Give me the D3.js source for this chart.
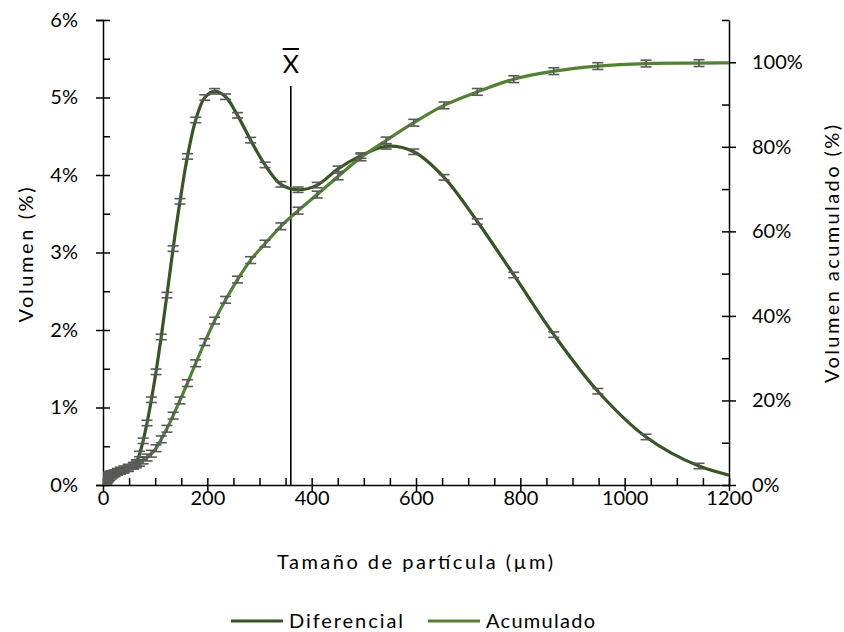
<!DOCTYPE html>
<html>
<head>
<meta charset="utf-8">
<script src="https://cdn.jsdelivr.net/npm/d3@7"></script>
<style>
  body { margin: 0; background: #fff; }
  svg { display: block; font-family: Lato, 'Open Sans', sans-serif; }
</style>
</head>
<body>
<div id="chart"></div>
<script>
// particle size classes (µm)
const sizes = [4.3, 5.2, 6.2, 7.5, 9.1, 10.9, 13.1, 15.8, 19, 22.9, 27.6, 33.3, 40.1, 48.3,
  58.2, 63.9, 70.1, 76.9, 84.4, 92.7, 101.7, 111.6, 122.5, 134.4, 147.6, 161.9,
  177.7, 195.1, 214.1, 235, 257.9, 283, 310.6, 340.9, 374.1, 410.6, 450.6, 494.5, 542.7, 595.7, 653.7, 717.5, 787.4, 864.2,
  948.5, 1041, 1142.5, 1254];
// volume (%) per class
const diferencial = [0.04, 0.06, 0.08, 0.10, 0.12, 0.13, 0.14, 0.15, 0.15, 0.16, 0.17, 0.18, 0.19, 0.21,
  0.25, 0.29, 0.40, 0.57, 0.80, 1.10, 1.46, 1.91, 2.45, 3.05, 3.66, 4.24,
  4.71, 5.00, 5.08, 5.01, 4.77, 4.45, 4.13, 3.88, 3.81, 3.87, 4.08, 4.25, 4.37, 4.30, 3.97, 3.40, 2.71, 1.94,
  1.21, 0.62, 0.245, 0.05];
// cumulative volume (%)
const acumulado = [0.5, 0.7, 0.9, 1.1, 1.35, 1.6, 1.9, 2.2, 2.5, 2.8, 3.1, 3.4, 3.7, 4.1,
  4.55, 4.85, 5.25, 5.8, 6.5, 7.4, 8.7, 10.8, 13.3, 16.4, 20.0, 24.1,
  28.8, 33.8, 38.9, 43.8, 48.6, 53.2, 57.1, 61.2, 64.9, 68.7, 73.0, 77.5, 81.5, 85.7, 89.8, 93.0, 96.0, 97.9,
  99.1, 99.7, 99.8, 99.9];
const diffErr = 0.035;
const cumErr = 0.8;

const xTicks = [0, 200, 400, 600, 800, 1000, 1200];
const xMinor = [0, 50, 100, 150, 200, 250, 300, 350, 400, 450, 500, 550, 600, 650, 700, 750, 800, 850, 900, 950, 1000, 1050, 1100, 1150, 1200];
const leftTicks = [0, 1, 2, 3, 4, 5, 6];
const leftMinor = [0, 0.5, 1, 1.5, 2, 2.5, 3, 3.5, 4, 4.5, 5, 5.5, 6];
const rightTicks = [0, 20, 40, 60, 80, 100];
const rightMinor = [0, 10, 20, 30, 40, 50, 60, 70, 80, 90, 100, 110];
const meanSize = 360;
const meanTop = 5.15;
const seriesNames = ['Diferencial', 'Acumulado'];
const colors = ['#375623', '#548235'];

const width = 844, height = 632;
const margin = { top: 20, right: 115, bottom: 147, left: 103 };
const innerW = width - margin.left - margin.right;
const innerH = height - margin.top - margin.bottom;

const svg = d3.select('#chart').append('svg').attr('width', width).attr('height', height);
const g = svg.append('g').attr('transform', `translate(${margin.left},${margin.top})`);

const x = d3.scaleLinear([0, 1200], [0, innerW]);
const yL = d3.scaleLinear([0, 6], [innerH, 0]);
const yR = d3.scaleLinear([0, 110], [innerH, 0]);

svg.append('defs').append('clipPath').attr('id', 'plot')
  .append('rect').attr('width', innerW).attr('height', innerH);

const pct = (d) => d + '%';
const styleAxis = (sel) => {
  sel.selectAll('path, line').attr('stroke', '#000').attr('stroke-width', 1.5);
  sel.selectAll('text').attr('font-size', 20).attr('fill', '#000').attr('font-family', 'Lato, sans-serif');
};

// left axis
g.append('g').call(d3.axisLeft(yL).tickValues(leftTicks).tickFormat(pct).tickSize(7).tickPadding(18)).call(styleAxis);
g.append('g').call(d3.axisRight(yL).tickValues(leftMinor).tickFormat('').tickSize(7).tickSizeOuter(0))
  .call(styleAxis).select('.domain').remove();

// right axis
g.append('g').attr('transform', `translate(${innerW},0)`)
  .call(d3.axisRight(yR).tickValues(rightTicks).tickFormat(pct).tickSize(7).tickPadding(16).tickSizeOuter(0)).call(styleAxis);
g.append('g').attr('transform', `translate(${innerW},0)`)
  .call(d3.axisLeft(yR).tickValues(rightMinor).tickFormat('').tickSize(7).tickSizeOuter(0))
  .call(styleAxis).select('.domain').remove();

// bottom axis
g.append('g').attr('transform', `translate(0,${innerH})`)
  .call(d3.axisBottom(x).tickValues(xTicks).tickFormat(d3.format('d')).tickSize(6).tickSizeOuter(0)).call(styleAxis)
  .call((a) => a.selectAll('text').attr('y', 6));
g.append('g').attr('transform', `translate(0,${innerH})`)
  .call(d3.axisTop(x).tickValues(xMinor).tickFormat('').tickSize(7).tickSizeOuter(0))
  .call(styleAxis).select('.domain').remove();

// mean line
g.append('line').attr('x1', x(meanSize)).attr('x2', x(meanSize)).attr('y1', yL(meanTop)).attr('y2', innerH)
  .attr('stroke', '#000').attr('stroke-width', 1.6);
const mx = g.append('text').attr('x', x(meanSize)).attr('y', 53).attr('text-anchor', 'middle')
  .attr('font-size', 25).attr('font-family', 'Lato, sans-serif').text('X');
const bb = mx.node().getBBox();
g.append('line').attr('x1', bb.x).attr('x2', bb.x + bb.width).attr('y1', 29).attr('y2', 29)
  .attr('stroke', '#000').attr('stroke-width', 2);

// series
const pts = (vals, y) => sizes.map((s, i) => ({ s, v: vals[i], y }));
const series = [
  { data: pts(diferencial, yL), err: diffErr, color: colors[0] },
  { data: pts(acumulado, yR), err: cumErr, color: colors[1] },
];
const plot = g.append('g').attr('clip-path', 'url(#plot)');
series.forEach((sr) => {
  const line = d3.line().x((d) => x(d.s)).y((d) => sr.data[0].y(d.v)).curve(d3.curveCatmullRom.alpha(0.5));
  plot.append('path').datum(sr.data).attr('fill', 'none').attr('stroke', sr.color).attr('stroke-width', 3.2).attr('d', line);
});
series.forEach((sr) => {
  const y = sr.data[0].y;
  const eb = plot.append('g').attr('stroke', '#595959').attr('stroke-width', 1.6);
  sr.data.filter((d) => d.s <= 1200).forEach((d) => {
    const cx = x(d.s), y1 = y(d.v + sr.err), y2 = y(d.v - sr.err);
    eb.append('line').attr('x1', cx).attr('x2', cx).attr('y1', y1).attr('y2', y2);
    eb.append('line').attr('x1', cx - 5.5).attr('x2', cx + 5.5).attr('y1', y1).attr('y2', y1);
    eb.append('line').attr('x1', cx - 5.5).attr('x2', cx + 5.5).attr('y1', y2).attr('y2', y2);
  });
});

// axis titles
svg.append('text').attr('x', 415).attr('y', 569).attr('text-anchor', 'middle').attr('font-size', 20)
  .attr('textLength', 276).attr('lengthAdjust', 'spacing').text('Tamaño de partícula (µm)');
svg.append('text').attr('transform', 'translate(33,255) rotate(-90)').attr('text-anchor', 'middle').attr('font-size', 20)
  .attr('textLength', 135).attr('lengthAdjust', 'spacing').text('Volumen (%)');
svg.append('text').attr('transform', 'translate(839,254) rotate(-90)').attr('text-anchor', 'middle').attr('font-size', 20)
  .attr('textLength', 258).attr('lengthAdjust', 'spacing').text('Volumen acumulado (%)');

// legend
const legendX = [231, 428];
const legendW = [114, 109];
seriesNames.forEach((name, i) => {
  const lg = svg.append('g').attr('transform', `translate(${legendX[i]},621)`);
  lg.append('line').attr('x1', 0).attr('x2', 52).attr('stroke', colors[i]).attr('stroke-width', 3.2);
  lg.append('text').attr('x', 58).attr('y', 7).attr('font-size', 20).attr('textLength', legendW[i])
    .attr('lengthAdjust', 'spacing').text(name);
});
</script>
</body>
</html>
